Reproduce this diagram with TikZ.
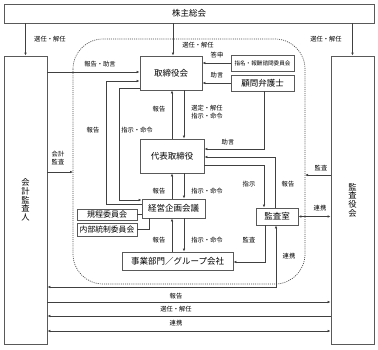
\documentclass[tikz,border=0pt]{standalone}
\usepackage{fontspec}
\setmainfont{Noto Sans CJK JP}
\usetikzlibrary{arrows.meta}
\begin{document}
\begin{tikzpicture}[x=1pt,y=-1pt,
  box/.style={draw=black!65, line width=0.8pt, fill=white, inner sep=0pt, font=\fontsize{8.5}{9}\selectfont},
  vbox/.style={box, align=center, font=\fontsize{8.3}{8.6}\selectfont},
  conn/.style={draw=black!75, line width=0.6pt},
  arr/.style={conn, -{Latex[length=3pt,width=2.6pt]}},
  barr/.style={conn, {Latex[length=3pt,width=2.6pt]}-{Latex[length=3pt,width=2.6pt]}},
  lbl/.style={font=\fontsize{6.3}{8}\selectfont, inner sep=0pt, align=center},
]
\useasboundingbox (0,0) rectangle (378,349);
\fill[white] (0,0) rectangle (378,349);
% dotted group
\draw[black!70, line width=0.7pt, dash pattern=on 1pt off 1.1pt, rounded corners=30pt] (73,39) rectangle (305,284);
\coordinate (dotL) at (73,172);
\coordinate (dotR) at (305,175);
% nodes
\node[box, minimum width=370pt, minimum height=19pt] (sh) at (189,13.5) {株主総会};
\node[vbox, minimum width=43pt, minimum height=288pt] (audL) at (25.5,200) {会\\計\\監\\査\\人};
\node[vbox, minimum width=43pt, minimum height=288pt] (audR) at (352.5,200) {監\\査\\役\\会};
\node[box, minimum width=62pt, minimum height=34pt] (board) at (171,73) {取締役会};
\node[box, minimum width=63pt, minimum height=16pt, font=\fontsize{5.6}{6}\selectfont] (nom) at (262.5,63) {指名・報酬諮問委員会};
\node[box, minimum width=63pt, minimum height=16pt] (law) at (262.5,83) {顧問弁護士};
\node[box, minimum width=64pt, minimum height=34pt] (ceo) at (172,156) {代表取締役};
\node[box, minimum width=63pt, minimum height=19pt] (plan) at (173.5,208.5) {経営企画会議};
\node[box, minimum width=60pt, minimum height=11pt, font=\fontsize{8}{8.5}\selectfont] (kitei) at (107,214.5) {規程委員会};
\node[box, minimum width=60pt, minimum height=13pt, font=\fontsize{7.8}{8.5}\selectfont] (naibu) at (107,229.5) {内部統制委員会};
\node[box, minimum width=111pt, minimum height=18pt] (biz) at (177.5,261) {事業部門／グループ会社};
\node[box, minimum width=42pt, minimum height=17pt] (kansa) at (277,216.5) {監査室};
% connectors
\draw[arr] (audL.north |- sh.south) -- (audL.north);
\draw[arr] (audR.north |- sh.south) -- (audR.north);
\draw[arr] (173,0 |- sh.south) -- (173,0 |- board.north);
\draw[arr] (audL.east |- 0,72) -- (board.west |- 0,72);
\draw[arr] (nom.west) -- (board.east |- nom.west);
\draw[arr] (law.west) -- (board.east |- law.west);
\draw[arr] (184,0 |- board.south) -- (184,0 |- ceo.north);
\draw[arr] (172,0 |- ceo.north) -- (172,0 |- board.south);
\draw[arr] (264,0 |- law.south) |- (ceo.east |- 0,149);
\draw[arr] (275,0 |- kansa.north) |- (ceo.east |- 0,157);
\draw[arr] (ceo.east |- 0,165) -| (264,0 |- kansa.north);
\draw[arr] (172,0 |- plan.north) -- (172,0 |- ceo.south);
\draw[arr] (184,0 |- ceo.south) -- (184,0 |- plan.north);
\draw[arr] (plan.west |- 0,204) -- (106,204) -- (106,81) -- (board.west |- 0,81);
\draw[arr] (board.west |- 0,88) -- (119,88) -- (119,200) -- (plan.west |- 0,200);
\draw[conn] (kitei.east) -- (plan.west |- kitei.east);
\draw[conn] (naibu.east) -| (149,0 |- plan.south);
\draw[arr] (172,0 |- biz.north) -- (172,0 |- plan.south);
\draw[arr] (184,0 |- plan.south) -- (184,0 |- biz.north);
\draw[arr] (265,0 |- kansa.south) |- (biz.east |- 0,262);
\draw[barr] (276,0 |- kansa.south) |- (audL.east |- 0,287);
\draw[barr] (kansa.east) -- (audR.west |- kansa.east);
\draw[arr] (audR.west |- dotR) -- (dotR);
\draw[arr] (audL.east |- dotL) -- (dotL);
\draw[arr] (audL.east |- 0,302) -- (audR.west |- 0,302);
\draw[arr] (audR.west |- 0,316) -- (audL.east |- 0,316);
\draw[barr] (audL.east |- 0,331) -- (audR.west |- 0,331);
% labels
\node[lbl] (l1) at (50,39) {選任・解任};
\node[lbl] (l2) at (326,39) {選任・解任};
\node[lbl] (l3) at (198,45) {選任・解任};
\node[lbl] (l4) at (100,64) {報告・助言};
\node[lbl] (l5) at (217,55) {答申};
\node[lbl] (l6) at (217,75) {助言};
\node[lbl] (l7) at (207,112) {選定・解任\\指示・命令};
\node[lbl] (l8) at (159,109) {報告};
\node[lbl] (l9) at (228,142) {助言};
\node[lbl] (l10) at (249,184) {指示};
\node[lbl] (l11) at (288,184) {報告};
\node[lbl] (l12) at (159,191) {報告};
\node[lbl] (l13) at (207,191) {指示・命令};
\node[lbl] (l14) at (93,130) {報告};
\node[lbl] (l15) at (137,130) {指示・命令};
\node[lbl] (l16) at (159,240) {報告};
\node[lbl] (l17) at (207,240) {指示・命令};
\node[lbl] (l18) at (249,240) {監査};
\node[lbl] (l19) at (289,256) {連携};
\node[lbl] (l20) at (320,208) {連携};
\node[lbl] (l21) at (321,168) {監査};
\node[lbl] (l22) at (58,158) {会計\\監査};
\node[lbl] (l23) at (176,296) {報告};
\node[lbl] (l24) at (176,309) {選任・解任};
\node[lbl] (l25) at (176,323) {連携};
\end{tikzpicture}
\end{document}
